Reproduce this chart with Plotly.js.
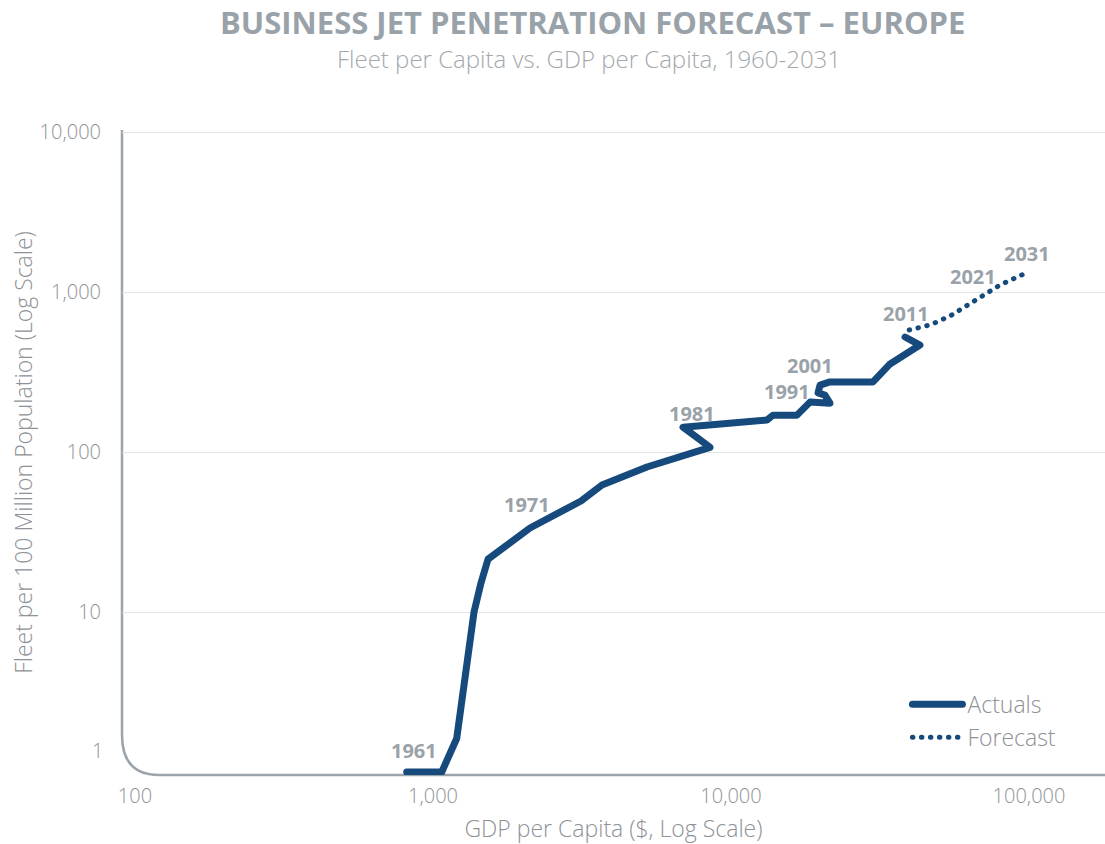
<!DOCTYPE html>
<html>
<head>
<meta charset="utf-8">
<script src="https://cdn.plot.ly/plotly-3.0.1.min.js"></script>
<style>
  html, body { margin: 0; padding: 0; background: #fff; }
  #chart { width: 1105px; height: 844px; }
  .js-line { stroke-linecap: round; stroke-linejoin: round; }
</style>
</head>
<body>
<div id="chart"></div>
<script>
// ---- Data ----
const actualGdp = [816, 1070, 1201, 1373, 1449, 1530, 2116, 3138, 3690, 4406, 5224, 8502, 6904,
                   13206, 13836, 16650, 18410, 21480, 20660, 19590, 19900, 21480, 29960, 34180, 43050, 38370];
const actualFleet = [1.0, 1.0, 1.62, 10, 15.2, 21.4, 33.5, 49.4, 62.2, 70.8, 80.6, 107, 143,
                     158.5, 170, 170, 205, 202, 227, 234, 262, 274, 274, 355, 466, 523];
const forecastGdp = [39630, 46530, 54330, 79940, 98150];
const forecastFleet = [579, 622, 708, 1106, 1321];

// year labels, attached to a point of a series
const labelYears  = ['1961', '1971', '1981', '1991', '2001', '2011', '2021', '2031'];
const labelSeries = ['a', 'a', 'a', 'a', 'a', 'f', 'f', 'f'];
const labelIndex  = [0, 6, 12, 19, 21, 0, 3, 4];
const labelDx     = [7, -3, 9, -31, -20, -3, -27, 0];
const labelDy     = [22, 23, 14, 1, 16, 16, 9, 19];

const xTickVals = [100, 1000, 10000, 100000];
const xTickText = ['100', '1,000', '10,000', '100,000'];
const yTickVals = [10, 100, 1000, 10000];
const yTickText = ['10', '100', '1,000', '10,000'];

// ---- Styling ----
const NAVY = '#174a7c';
const TITLE_GRAY = '#9aa2a9';
const TEXT_GRAY = '#8d9297';
const AXIS_GRAY = '#9ba3ab';
const FONT = '"Open Sans", Lato, sans-serif';
const BOLD_FONT = '"Open Sans", Lato, sans-serif';

const traces = [
  {
    x: actualGdp, y: actualFleet, type: 'scatter', mode: 'lines', name: 'Actuals',
    line: { color: NAVY, width: 7 }, hoverinfo: 'skip'
  },
  {
    x: forecastGdp, y: forecastFleet, type: 'scatter', mode: 'lines', name: 'Forecast',
    line: { color: NAVY, width: 5, dash: '0.5px,8.5px' }, hoverinfo: 'skip'
  }
];

const annotations = labelYears.map((t, i) => {
  const xs = labelSeries[i] === 'a' ? actualGdp : forecastGdp;
  const ys = labelSeries[i] === 'a' ? actualFleet : forecastFleet;
  return {
    x: Math.log10(xs[labelIndex[i]]), y: Math.log10(ys[labelIndex[i]]),
    xref: 'x', yref: 'y', text: '<b>' + t + '</b>', showarrow: false,
    xshift: labelDx[i], yshift: labelDy[i],
    font: { family: BOLD_FONT, size: 20, color: TITLE_GRAY }
  };
});

// chart title and subtitle
annotations.push({
  xref: 'paper', yref: 'paper', x: 0.479, y: 1.1674, xanchor: 'center', yanchor: 'middle',
  text: '<b>BUSINESS JET PENETRATION FORECAST \u2013 EUROPE</b>', showarrow: false,
  font: { family: BOLD_FONT, size: 31, color: TITLE_GRAY }
});
annotations.push({
  xref: 'paper', yref: 'paper', x: 0.475, y: 1.1101, xanchor: 'center', yanchor: 'middle',
  text: 'Fleet per Capita vs. GDP per Capita, 1960-2031', showarrow: false,
  font: { family: FONT, size: 24, color: '#a3a9ae', weight: 300 }
});
// the "1" tick label sits above the bottom axis line
annotations.push({
  xref: 'paper', yref: 'y', x: 0, y: 0, xanchor: 'right', yanchor: 'middle',
  xshift: -17, yshift: 22, text: '1', showarrow: false,
  font: { family: FONT, size: 20, color: TEXT_GRAY, weight: 300 }
});

const rx = 37 / 983, ry = 40 / 645;
const layout = {
  width: 1105, height: 844,
  margin: { l: 122, r: 0, t: 130, b: 69 },
  paper_bgcolor: '#ffffff', plot_bgcolor: '#ffffff',
  showlegend: true,
  font: { family: FONT, color: TEXT_GRAY },
  xaxis: {
    type: 'log', range: [1.9564, 5.255],
    tickvals: xTickVals, ticktext: xTickText,
    showgrid: false, zeroline: false, showline: false,
    ticks: 'outside', ticklen: 3, tickcolor: 'rgba(0,0,0,0)',
    tickfont: { family: FONT, size: 20, color: TEXT_GRAY, weight: 300 },
    title: { text: 'GDP per Capita ($, Log Scale)', standoff: 14,
             font: { family: FONT, size: 23, color: TEXT_GRAY, weight: 300 } },
    fixedrange: true
  },
  yaxis: {
    type: 'log', range: [-0.01875, 4.0125],
    tickvals: yTickVals, ticktext: yTickText,
    showgrid: true, gridcolor: '#e1e4e7', gridwidth: 1,
    zeroline: false, showline: false,
    ticks: 'outside', ticklen: 16, tickcolor: 'rgba(0,0,0,0)',
    tickfont: { family: FONT, size: 20, color: TEXT_GRAY, weight: 300 },
    title: { text: 'Fleet per 100 Million Population (Log Scale)', standoff: 0,
             font: { family: FONT, size: 23, color: TEXT_GRAY, weight: 300 } },
    fixedrange: true
  },
  legend: {
    x: 0.799, y: 0.025, xanchor: 'left', yanchor: 'bottom',
    bgcolor: 'rgba(0,0,0,0)', borderwidth: 0,
    font: { family: FONT, size: 23, color: TEXT_GRAY, weight: 300 },
    itemwidth: 50
  },
  shapes: [{
    type: 'path', xref: 'paper', yref: 'paper', layer: 'below',
    path: `M 0,1 L 0,${ry} Q 0,0 ${rx},0 L 1,0`,
    line: { color: AXIS_GRAY, width: 2.5 }
  }],
  annotations: annotations
};

Plotly.newPlot('chart', traces, layout, { displayModeBar: false, staticPlot: true });
</script>
</body>
</html>
